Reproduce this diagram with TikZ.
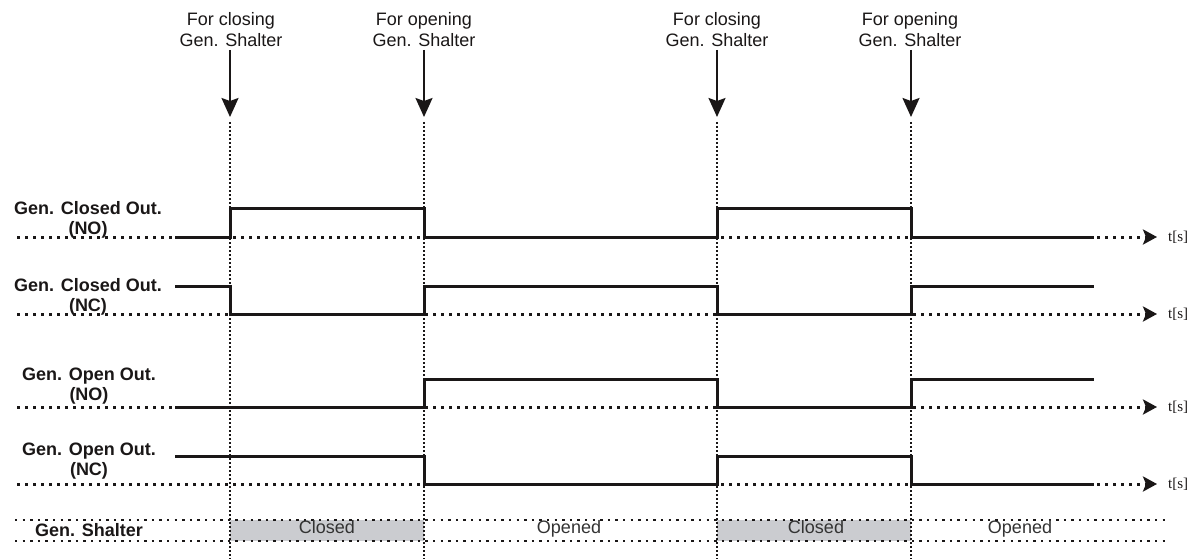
\documentclass[tikz,border=0pt]{standalone}
\usepackage{fontspec}
\setmainfont{Liberation Sans}
\newfontfamily\serifface{Liberation Serif}
\usetikzlibrary{arrows.meta}
\definecolor{ink}{HTML}{1A1717}
\definecolor{bandgray}{HTML}{CBCCD0}
\begin{document}
\begin{tikzpicture}[x=1pt,y=-1pt,
  sig/.style={line width=3pt, line join=miter, draw=ink},
  baseln/.style={line width=3pt, dash pattern=on 3pt off 5pt, draw=ink,
    -{Stealth[length=14pt,width=15pt,inset=3pt]}},
  vline/.style={line width=2.6pt, dash pattern=on 2.2pt off 1.8pt, draw=ink},
  bandln/.style={line width=2.4pt, dash pattern=on 2.4pt off 5.2pt, draw=ink},
  toparrow/.style={line width=2pt, draw=ink, -{Stealth[length=19pt,width=17pt,inset=3pt]}},
  lab/.style={font=\fontsize{18}{20}\selectfont\bfseries, align=center, text=ink, inner sep=0pt, anchor=north},
  toplab/.style={font=\fontsize{18}{21}\selectfont, align=center, text=ink, inner sep=0pt, anchor=north},
  ts/.style={font=\serifface\fontsize{15}{15}\selectfont, anchor=west, inner sep=0pt, text=ink},
  st/.style={font=\fontsize{18}{18}\selectfont, text=black!80, inner sep=0pt, anchor=base},
]
\useasboundingbox (0,0) rectangle (1196,559);

% gray band fills
\fill[bandgray] (230,520) rectangle (424,541);
\fill[bandgray] (717,520) rectangle (911,541);

% band lines
\draw[bandln] (15,520) -- (1168,520);
\draw[bandln] (15,541) -- (1168,541);

% vertical event lines
\foreach \x in {230,424,717,911}{
  \draw[vline] (\x,122) -- (\x,559);
}

% top labels and arrows
\node[toplab] (fc1) at (231,12.5) {For closing\\Gen. Shalter};
\node[toplab] (fo1) at (424,12.5) {For opening\\Gen. Shalter};
\node[toplab] (fc2) at (717,12.5) {For closing\\Gen. Shalter};
\node[toplab] (fo2) at (910,12.5) {For opening\\Gen. Shalter};
\coordinate (a1) at (230,50);  \coordinate (b1) at (230,117);
\coordinate (a2) at (424,50);  \coordinate (b2) at (424,117);
\coordinate (a3) at (717,50);  \coordinate (b3) at (717,117);
\coordinate (a4) at (911,50);  \coordinate (b4) at (911,117);
\draw[toparrow] (a1) -- (b1);
\draw[toparrow] (a2) -- (b2);
\draw[toparrow] (a3) -- (b3);
\draw[toparrow] (a4) -- (b4);

% row labels
\node[lab] (l1) at (88,201) {Gen. Closed Out.\\(NO)};
\node[lab] (l2) at (88,278) {Gen. Closed Out.\\(NC)};
\node[lab] (l3) at (89,368) {Gen. Open Out.\\(NO)};
\node[lab] (l4) at (89,443) {Gen. Open Out.\\(NC)};
\node[font=\fontsize{18}{20}\selectfont\bfseries, text=ink, inner sep=0pt, anchor=base] (l5) at (89,536) {Gen. Shalter};

% time axes
\coordinate (s1) at (17,237);  \coordinate (e1) at (1157,237);
\coordinate (s2) at (17,314);  \coordinate (e2) at (1157,314);
\coordinate (s3) at (17,407);  \coordinate (e3) at (1157,407);
\coordinate (s4) at (17,484);  \coordinate (e4) at (1157,484);
\draw[baseln] (s1) -- (e1);
\draw[baseln] (s2) -- (e2);
\draw[baseln] (s3) -- (e3);
\draw[baseln] (s4) -- (e4);
\node[ts] (t1) at (1168,237) {t[s]};
\node[ts] (t2) at (1168,314) {t[s]};
\node[ts] (t3) at (1168,407) {t[s]};
\node[ts] (t4) at (1168,484) {t[s]};

% signals
\draw[sig] (175,237) -- (230,237) -- (230,208) -- (424,208) -- (424,237) -- (717,237) -- (717,208) -- (911,208) -- (911,237) -- (1094,237);
\draw[sig] (175,286) -- (230,286) -- (230,314) -- (424,314) -- (424,286) -- (717,286) -- (717,314) -- (911,314) -- (911,286) -- (1094,286);
\draw[sig] (175,407) -- (424,407) -- (424,379) -- (717,379) -- (717,407) -- (911,407) -- (911,379) -- (1094,379);
\draw[sig] (175,456) -- (424,456) -- (424,484) -- (717,484) -- (717,456) -- (911,456) -- (911,484) -- (1094,484);

% band state texts
\node[st] (c1) at (327,533) {Closed};
\node[st] (o1) at (569,533) {Opened};
\node[st] (c2) at (816,533) {Closed};
\node[st] (o2) at (1020,533) {Opened};
\end{tikzpicture}
\end{document}
